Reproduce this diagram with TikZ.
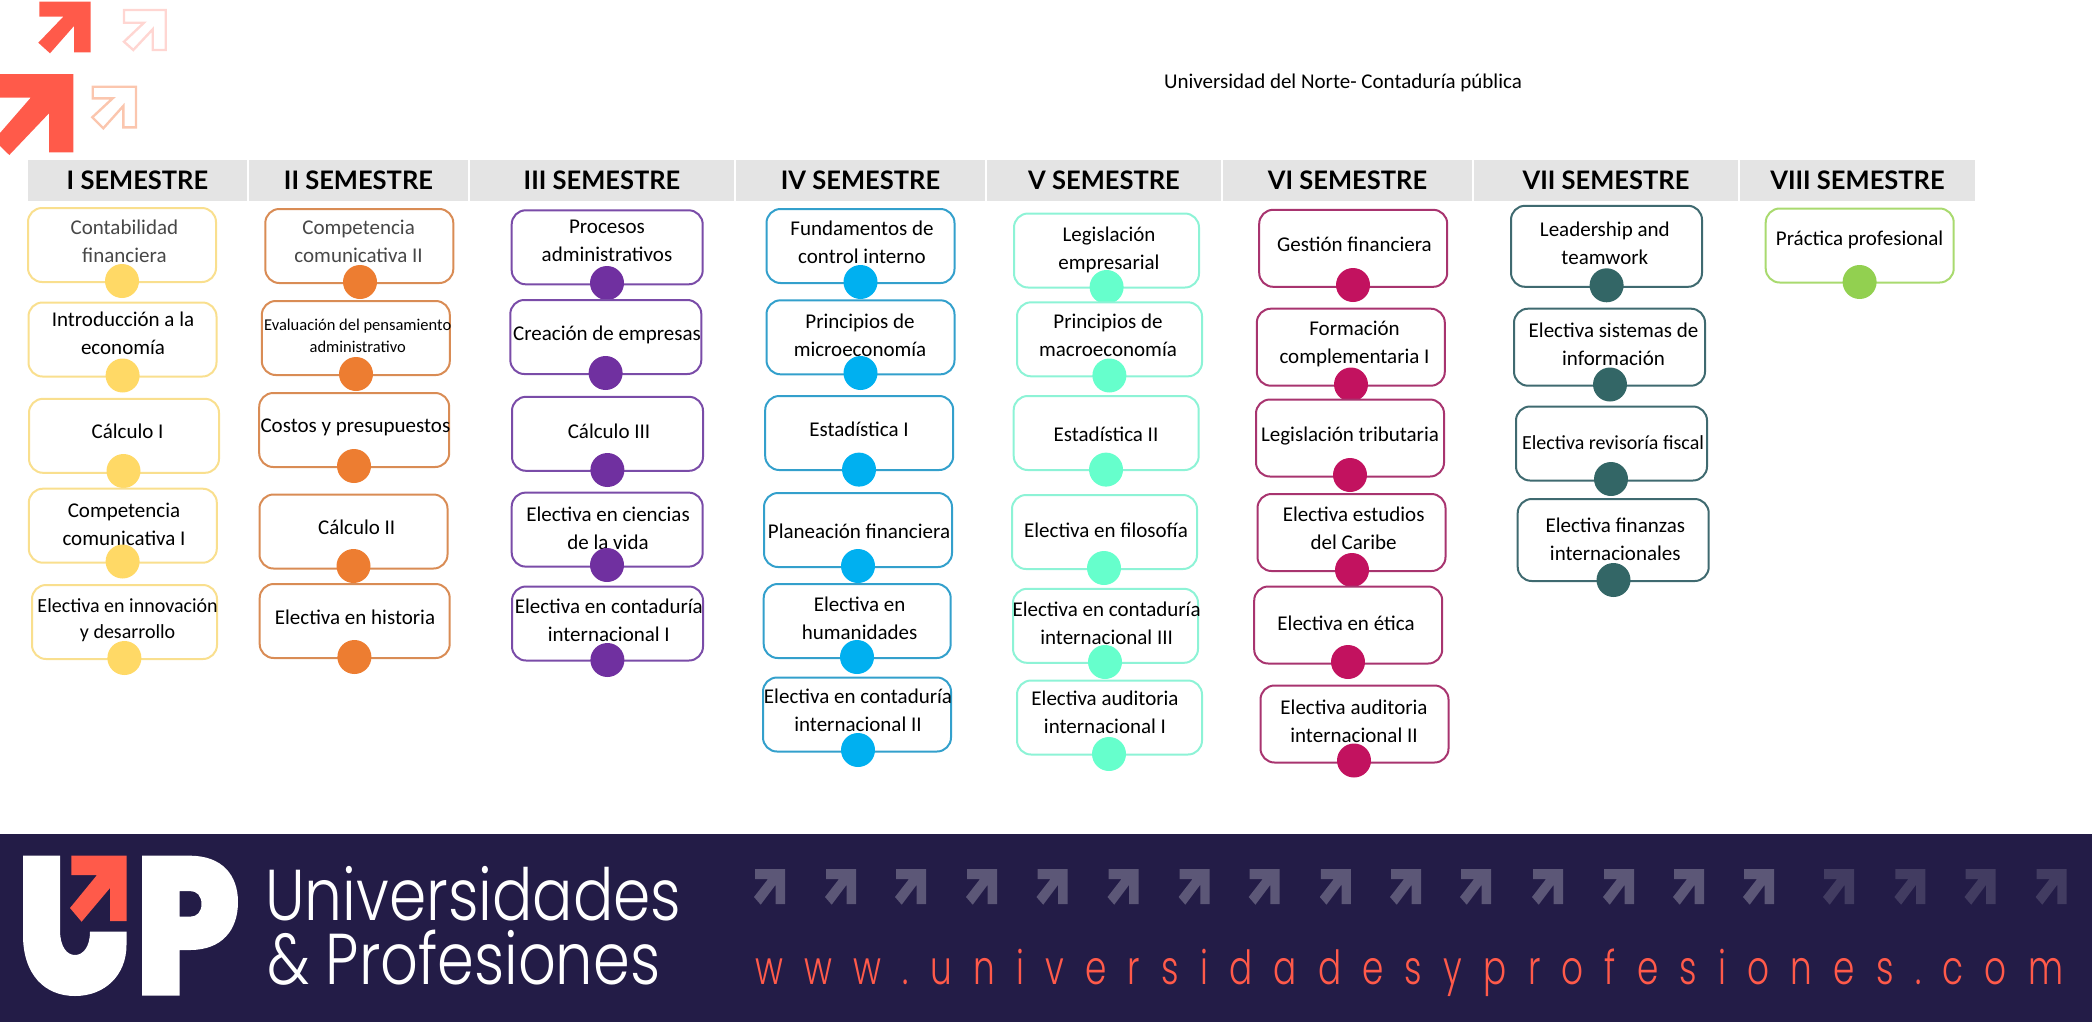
\documentclass[tikz,border=0pt]{standalone}
\usepackage{fontspec}
\setmainfont{Carlito}
\newfontfamily\headfont{Lato}
\newfontfamily\logofont{Poppins Light}
\newfontfamily\webfont[LetterSpace=62]{Poppins Light}
\usetikzlibrary{positioning}

\definecolor{bandnavy}{HTML}{231C47}
\definecolor{uporange}{HTML}{FF5A4A}
\definecolor{headgray}{HTML}{E4E4E4}
\definecolor{faintpink}{HTML}{FFD6D2}
\definecolor{faintpeach}{HTML}{FBC6AE}
\definecolor{semAline}{HTML}{F9DF8E}\definecolor{semAdot}{HTML}{FFD966}
\definecolor{semBline}{HTML}{D98C55}\definecolor{semBdot}{HTML}{ED7D31}
\definecolor{semCline}{HTML}{7A4CA8}\definecolor{semCdot}{HTML}{7030A0}
\definecolor{semDline}{HTML}{33A0CC}\definecolor{semDdot}{HTML}{00B0F0}
\definecolor{semEline}{HTML}{8DF3D6}\definecolor{semEdot}{HTML}{66FFCC}
\definecolor{semFline}{HTML}{A8346F}\definecolor{semFdot}{HTML}{C2125F}
\definecolor{semGline}{HTML}{3F6A70}\definecolor{semGdot}{HTML}{336666}
\definecolor{semHline}{HTML}{A9DA6F}\definecolor{semHdot}{HTML}{92D050}

\begin{document}
\begin{tikzpicture}[
  x=1pt,y=-1pt,
  head/.style={fill=headgray,minimum height=41pt,inner sep=0pt,
               font=\headfont\fontsize{25.5}{28}\selectfont\bfseries},
  course/.style={draw,fill=white,line width=2pt,rounded corners=14pt,
                 minimum width=188pt,minimum height=74pt,inner sep=0pt},
  coursetxt/.style={align=center,inner sep=0pt,yshift=-0.7pt,font=\fontsize{21}{28}\selectfont},
  thin_txt/.style={coursetxt,text=black!72},
  dot/.style={circle,minimum size=34pt,inner sep=0pt},
  solidarrow/.style={fill=uporange},
  hollowarrow/.style={line width=2.4pt},
  pics/bandarrow/.style={code={
    \fill[pic actions] (0,0) -- (30,0) -- (30,35) -- (20.7,35) -- (20.7,15.7)
      -- (5.7,35.7) -- (-1,28) -- (13,10) -- (0,10) -- cycle;}},
]
\useasboundingbox (0,0) rectangle (2092,1031);

%% ===== Corner arrows =========================================================
\path[solidarrow] (39.3,1.7) -- (90.7,1.7) -- (90.7,52.3) -- (74,52.3) -- (74,26)
  -- (50,53.3) -- (38.3,42.7) -- (63.3,16.7) -- (39.3,16.7) -- cycle;
\draw[hollowarrow,draw=faintpink] (124,10) -- (165.7,10) -- (165.7,50) -- (152.7,50)
  -- (152.7,29.3) -- (133.3,50) -- (124,41.7) -- (144,22.7) -- (124,22.7) -- cycle;
\path[solidarrow] (0,74) -- (73.3,74) -- (73.3,152.3) -- (49,152.3) -- (49,113.3)
  -- (9.3,155) -- (0,146) -- (0,133) -- (30.7,97.7) -- (0,97.7) -- cycle;
\draw[hollowarrow,draw=faintpeach] (92.7,86.7) -- (136,86.7) -- (136,127.3) -- (123.3,127.3)
  -- (123.3,106) -- (103.3,128.3) -- (92.3,117.3) -- (112.7,98.3) -- (92.7,98.3) -- cycle;

%% ===== Title =================================================================
\node[font=\fontsize{21}{24}\selectfont] (title) at (1343,82.5) {Universidad del Norte- Contaduría pública};

%% ===== Semester headers ======================================================
\node[head,minimum width=219.5pt] (h1) at (137.5,180.5) {I SEMESTRE};
\node[head,minimum width=219.5pt] (h2) at (358.5,180.5) {II SEMESTRE};
\node[head,minimum width=264pt] (h3) at (602,180.5) {III SEMESTRE};
\node[head,minimum width=249pt] (h4) at (860.5,180.5) {IV SEMESTRE};
\node[head,minimum width=234pt] (h5) at (1104,180.5) {V SEMESTRE};
\node[head,minimum width=249.5pt] (h6) at (1347.5,180.5) {VI SEMESTRE};
\node[head,minimum width=264pt] (h7) at (1606,180.5) {VII SEMESTRE};
\node[head,minimum width=235pt] (h8) at (1857.5,180.5) {VIII SEMESTRE};

%% ===== I Semestre ============================================================
\node[course,draw=semAline] (a1) at (122,245) {};
\node[thin_txt] (ta1) at (124.4,240.6) {Contabilidad\\financiera};
\node[dot,fill=semAdot] (da1) at (122,281) {};
\node[course,draw=semAline] (a2) at (122.5,339.5) {};
\node[coursetxt] (ta2) at (123,332.5) {Introducción a la\\economía};
\node[dot,fill=semAdot] (da2) at (122.6,375.5) {};
\node[course,draw=semAline,minimum width=190pt] (a3) at (124,435.8) {};
\node[coursetxt] (ta3) at (127.6,431) {Cálculo I};
\node[dot,fill=semAdot] (da3) at (123.5,471) {};
\node[course,draw=semAline] (a4) at (122.8,525.7) {};
\node[coursetxt] (ta4) at (124,523.6) {Competencia\\comunicativa I};
\node[dot,fill=semAdot] (da4) at (122.6,561.5) {};
\node[course,draw=semAline,minimum width=185pt] (a5) at (124.5,622) {};
\node[coursetxt,font=\fontsize{20}{26}\selectfont] (ta5) at (127.6,619) {Electiva en innovación\\y desarrollo};
\node[dot,fill=semAdot] (da5) at (124.4,658) {};

%% ===== II Semestre ===========================================================
\node[course,draw=semBline] (b1) at (359.3,246) {};
\node[thin_txt] (tb1) at (358.6,240.6) {Competencia\\comunicativa II};
\node[dot,fill=semBdot] (db1) at (360,282) {};
\node[course,draw=semBline] (b2) at (355.8,338) {};
\node[coursetxt,font=\fontsize{16.5}{22}\selectfont] (tb2) at (357.7,335) {Evaluación del pensamiento\\administrativo};
\node[dot,fill=semBdot] (db2) at (356,374) {};
\node[course,draw=semBline,minimum width=190pt] (b3) at (354.2,430) {};
\node[coursetxt] (tb3) at (355.4,426.5) {Costos y presupuestos};
\node[dot,fill=semBdot] (db3) at (354,466) {};
\node[course,draw=semBline] (b4) at (353.5,531.5) {};
\node[coursetxt] (tb4) at (356.7,526.4) {Cálculo II};
\node[dot,fill=semBdot] (db4) at (353.5,566) {};
\node[course,draw=semBline,minimum width=190pt] (b5) at (354.7,621) {};
\node[coursetxt] (tb5) at (355,616.6) {Electiva en historia};
\node[dot,fill=semBdot] (db5) at (354.4,657) {};

%% ===== III Semestre ==========================================================
\node[course,draw=semCline,minimum width=191pt] (c1) at (607.2,247.3) {};
\node[coursetxt] (tc1) at (607,240.6) {Procesos\\administrativos};
\node[dot,fill=semCdot] (dc1) at (607,283) {};
\node[course,draw=semCline,minimum width=191pt] (c2) at (605.8,337) {};
\node[coursetxt] (tc2) at (607,334.6) {Creación de empresas};
\node[dot,fill=semCdot] (dc2) at (605.6,373) {};
\node[course,draw=semCline,minimum width=191pt] (c3) at (607.5,433.8) {};
\node[coursetxt] (tc3) at (609,430.3) {Cálculo III};
\node[dot,fill=semCdot] (dc3) at (607.4,470) {};
\node[course,draw=semCline,minimum width=191pt] (c4) at (607.2,529.6) {};
\node[coursetxt] (tc4) at (608,527.4) {Electiva en ciencias\\de la vida};
\node[dot,fill=semCdot] (dc4) at (607,565) {};
\node[course,draw=semCline,minimum width=191pt] (c5) at (607.5,623.5) {};
\node[coursetxt] (tc5) at (608.8,619.4) {Electiva en contaduría\\internacional I};
\node[dot,fill=semCdot] (dc5) at (607.4,660) {};

%% ===== IV Semestre ===========================================================
\node[course,draw=semDline] (d1) at (860.5,246) {};
\node[coursetxt] (td1) at (862,242) {Fundamentos de\\control interno};
\node[dot,fill=semDdot] (dd1) at (860.5,282) {};
\node[course,draw=semDline] (d2) at (860.5,337.3) {};
\node[coursetxt] (td2) at (860,334.6) {Principios de\\microeconomía};
\node[dot,fill=semDdot] (dd2) at (860.5,373) {};
\node[course,draw=semDline] (d3) at (859.2,433) {};
\node[coursetxt] (td3) at (859,428.6) {Estadística I};
\node[dot,fill=semDdot] (dd3) at (859,469.6) {};
\node[course,draw=semDline] (d4) at (858,530) {};
\node[coursetxt] (td4) at (859,530.5) {Planeación financiera};
\node[dot,fill=semDdot] (dd4) at (858,566) {};
\node[course,draw=semDline,minimum width=187pt] (d5) at (857.2,621) {};
\node[coursetxt] (td5) at (859.6,617.6) {Electiva en\\humanidades};
\node[dot,fill=semDdot] (dd5) at (857,657) {};
\node[course,draw=semDline] (d6) at (857,714.5) {};
\node[coursetxt] (td6) at (858,710) {Electiva en contaduría\\internacional II};
\node[dot,fill=semDdot] (dd6) at (858,750) {};

%% ===== V Semestre ============================================================
\node[course,draw=semEline,minimum width=185pt] (e1) at (1106.5,250.5) {};
\node[coursetxt] (te1) at (1109,249.5) {Legislación\\empresarial};
\node[dot,fill=semEdot] (de1) at (1106.6,287) {};
\node[course,draw=semEline,minimum width=185pt] (e2) at (1109.5,339.3) {};
\node[coursetxt] (te2) at (1108,334.6) {Principios de\\macroeconomía};
\node[dot,fill=semEdot] (de2) at (1109.4,375.5) {};
\node[course,draw=semEline,minimum width=185pt] (e3) at (1106.2,433) {};
\node[coursetxt] (te3) at (1106,433.4) {Estadística II};
\node[dot,fill=semEdot] (de3) at (1106,469.6) {};
\node[course,draw=semEline,minimum width=185pt] (e4) at (1104.5,532) {};
\node[coursetxt] (te4) at (1106,529.5) {Electiva en filosofía};
\node[dot,fill=semEdot] (de4) at (1104,568) {};
\node[course,draw=semEline,minimum width=185pt] (e5) at (1105.5,625.8) {};
\node[coursetxt] (te5) at (1106.6,622.4) {Electiva en contaduría\\internacional III};
\node[dot,fill=semEdot] (de5) at (1105,662) {};
\node[course,draw=semEline,minimum width=185pt] (e6) at (1109.5,717.5) {};
\node[coursetxt] (te6) at (1105,712) {Electiva auditoria\\internacional I};
\node[dot,fill=semEdot] (de6) at (1109,754) {};

%% ===== VI Semestre ===========================================================
\node[course,draw=semFline,minimum height=77pt] (f1) at (1353.2,248.3) {};
\node[coursetxt] (tf1) at (1354.5,243.7) {Gestión financiera};
\node[dot,fill=semFdot] (df1) at (1353,285) {};
\node[course,draw=semFline,minimum height=77pt] (f2) at (1350.8,347.2) {};
\node[coursetxt] (tf2) at (1354.5,343.5) {Formación\\complementaria I};
\node[dot,fill=semFdot] (df2) at (1351,384.5) {};
\node[course,draw=semFline,minimum height=77pt] (f3) at (1350,438) {};
\node[coursetxt] (tf3) at (1350,435.5) {Legislación tributaria};
\node[dot,fill=semFdot] (df3) at (1350,475) {};
\node[course,draw=semFline,minimum height=77pt] (f4) at (1351.5,532.5) {};
\node[coursetxt] (tf4) at (1353.6,527.4) {Electiva estudios\\del Caribe};
\node[dot,fill=semFdot] (df4) at (1352,570) {};
\node[course,draw=semFline,minimum height=77pt] (f5) at (1348.2,625) {};
\node[coursetxt] (tf5) at (1346,622.4) {Electiva en ética};
\node[dot,fill=semFdot] (df5) at (1348,662) {};
\node[course,draw=semFline,minimum height=77pt] (f6) at (1354.5,724) {};
\node[coursetxt] (tf6) at (1354,720.5) {Electiva auditoria\\internacional II};
\node[dot,fill=semFdot] (df6) at (1354,760.5) {};

%% ===== VII Semestre ==========================================================
\node[course,draw=semGline,minimum width=191pt,minimum height=81pt] (g1) at (1606.5,246.3) {};
\node[coursetxt] (tg1) at (1604.8,242.6) {Leadership and\\teamwork};
\node[dot,fill=semGdot] (dg1) at (1606.6,285.3) {};
\node[course,draw=semGline,minimum width=191pt,minimum height=77pt] (g2) at (1609.5,347.2) {};
\node[coursetxt] (tg2) at (1613.5,343.5) {Electiva sistemas de\\información};
\node[dot,fill=semGdot] (dg2) at (1610,384.5) {};
\node[course,draw=semGline,minimum width=191pt] (g3) at (1611.5,443.5) {};
\node[coursetxt,font=\fontsize{20}{28}\selectfont] (tg3) at (1613,441.7) {Electiva revisoría fiscal};
\node[dot,fill=semGdot] (dg3) at (1611,479) {};
\node[course,draw=semGline,minimum width=191pt,minimum height=82pt] (g4) at (1613.2,540) {};
\node[coursetxt] (tg4) at (1615.3,538.4) {Electiva finanzas\\internacionales};
\node[dot,fill=semGdot] (dg4) at (1613.5,580) {};

%% ===== VIII Semestre =========================================================
\node[course,draw=semHline] (h81) at (1859.7,245.5) {};
\node[coursetxt] (th81) at (1859.6,239.5) {Práctica profesional};
\node[dot,fill=semHdot] (dh81) at (1859.6,282) {};

%% ===== Bottom band ===========================================================
\fill[bandnavy] (0,833.5) rectangle (2092,1021.5);

%% ===== UP logo ===============================================================
\fill[white] (23,855.7) -- (60,855.7) -- (60,930) .. controls (60,947) and (67,955) .. (75,955)
  .. controls (83,955) and (90,947) .. (90,931.7) -- (126.5,931.7) -- (126.5,945)
  .. controls (126.5,975) and (105,996) .. (75,996) .. controls (45,996) and (23,975) .. (23,935) -- cycle;
\fill[uporange] (71.4,855.7) -- (126.5,855.7) -- (126.5,921) -- (110,921) -- (110,888)
  -- (81.6,921.7) -- (70,908) -- (97,875) -- (71.4,875) -- cycle;
\fill[white,even odd rule] (142,855.7) -- (190,855.7) .. controls (222,855.7) and (238,875) .. (238,902)
  .. controls (238,930) and (222,950) .. (190,950) -- (179.6,950) -- (179.6,995.7) -- (142,995.7) -- cycle
  (179.6,891) -- (190,891) .. controls (197,891) and (201.5,896) .. (201.5,904)
  .. controls (201.5,912) and (197,916.7) .. (190,916.7) -- (179.6,916.7) -- cycle;
\node[anchor=base west,inner sep=0pt,text=white,font=\logofont\fontsize{72}{72}\selectfont] (brand1)
  at (265,920.7) {\resizebox{416pt}{\height}{Universidades}};
\node[anchor=base west,inner sep=0pt,text=white,font=\logofont\fontsize{72}{72}\selectfont] (brand2)
  at (267,984) {\resizebox{393pt}{\height}{\&~Profesiones}};

%% ===== Band arrows ===========================================================
\pic[fill=white!26!bandnavy] at (755,869) {bandarrow};
\pic[fill=white!26!bandnavy] at (826,869) {bandarrow};
\pic[fill=white!26!bandnavy] at (896,869) {bandarrow};
\pic[fill=white!26!bandnavy] at (967,869) {bandarrow};
\pic[fill=white!26!bandnavy] at (1037.5,869) {bandarrow};
\pic[fill=white!26!bandnavy] at (1108.5,869) {bandarrow};
\pic[fill=white!26!bandnavy] at (1179.6,869) {bandarrow};
\pic[fill=white!26!bandnavy] at (1249.7,869) {bandarrow};
\pic[fill=white!26!bandnavy] at (1320.8,869) {bandarrow};
\pic[fill=white!26!bandnavy] at (1391,869) {bandarrow};
\pic[fill=white!26!bandnavy] at (1461,869) {bandarrow};
\pic[fill=white!26!bandnavy] at (1533,869) {bandarrow};
\pic[fill=white!26!bandnavy] at (1604,869) {bandarrow};
\pic[fill=white!26!bandnavy] at (1674,869) {bandarrow};
\pic[fill=white!26!bandnavy] at (1744,869) {bandarrow};
\pic[fill=white!14!bandnavy] at (1824,869) {bandarrow};
\pic[fill=white!14!bandnavy] at (1895.4,869) {bandarrow};
\pic[fill=white!14!bandnavy] at (1965.5,869) {bandarrow};
\pic[fill=white!14!bandnavy] at (2036.6,869) {bandarrow};

%% ===== Web address ===========================================================
\node[anchor=base west,inner sep=0pt,text=uporange,font=\webfont\fontsize{47}{47}\selectfont] (web)
  at (755,984) {\resizebox{1308pt}{\height}{www.universidadesyprofesiones.com}};

\end{tikzpicture}
\end{document}
